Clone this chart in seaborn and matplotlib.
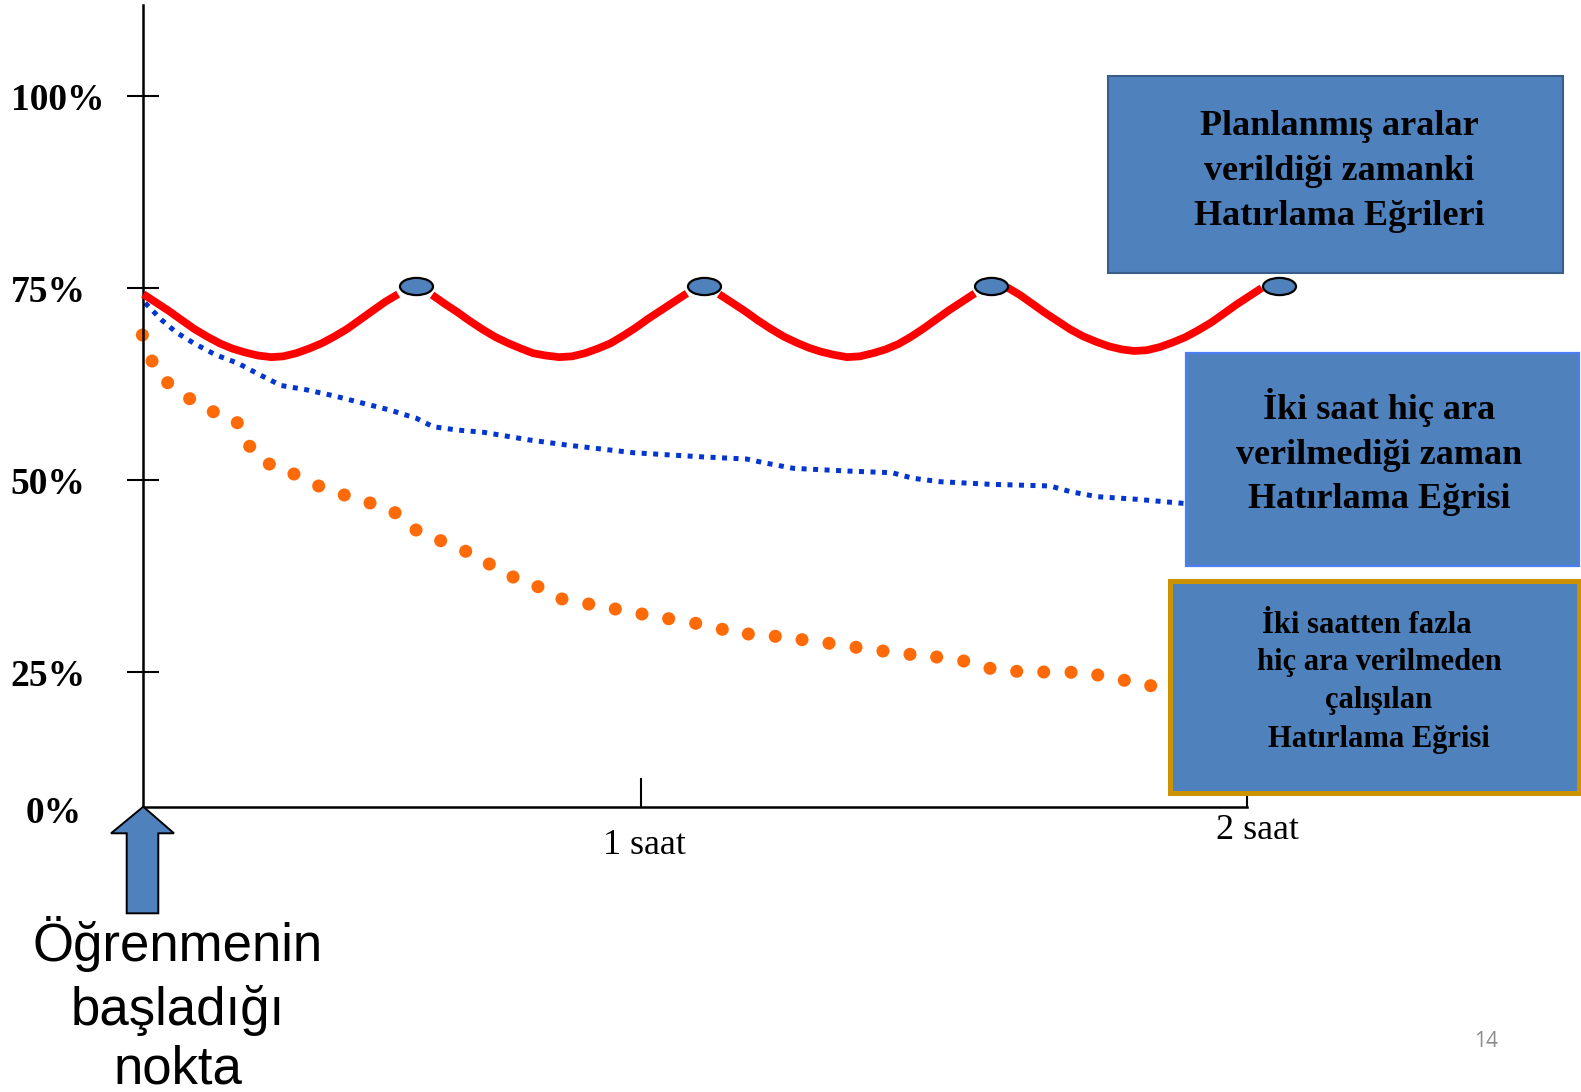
import numpy as np
import pandas as pd
import matplotlib
matplotlib.use("Agg")
import matplotlib.pyplot as plt
import matplotlib.transforms as mtransforms
from matplotlib.patches import Rectangle, Polygon
from matplotlib.path import Path
from matplotlib.markers import MarkerStyle
import seaborn as sns

# ---------------- data (x: minutes since start of learning, y: % recall) ----------------
seg1_x = [0.0, 1.4, 2.8, 4.2, 5.5, 6.9, 8.3, 9.7, 11.1, 12.5, 13.9, 15.2, 16.6, 18.0, 19.4,
          20.8, 22.2, 23.6, 25.0, 26.3, 27.7]
seg1_y = [74.2, 73.1, 72.0, 70.8, 69.7, 68.7, 67.8, 67.1, 66.6, 66.2, 66.0, 66.1, 66.5, 67.1,
          67.8, 68.7, 69.7, 70.9, 72.1, 73.2, 74.2]
seg2_x = [31.4, 32.7, 34.1, 35.5, 36.9, 38.3, 39.7, 41.1, 42.4, 43.8, 45.2, 46.6, 48.0, 49.4,
          50.8, 52.2, 53.5, 54.9, 56.3, 57.7, 59.1]
seg2_y = [74.1, 73.0, 71.9, 70.7, 69.6, 68.6, 67.8, 67.1, 66.5, 66.2, 66.0, 66.1, 66.5, 67.1,
          67.8, 68.8, 69.8, 71.0, 72.1, 73.2, 74.3]
seg3_x = [62.6, 64.0, 65.4, 66.8, 68.2, 69.6, 71.0, 72.4, 73.7, 75.1, 76.5, 77.9, 79.3, 80.7,
          82.1, 83.4, 84.8, 86.2, 87.6, 89.0, 90.4]
seg3_y = [74.2, 73.1, 72.0, 70.8, 69.7, 68.7, 67.9, 67.2, 66.7, 66.3, 66.0, 66.1, 66.5, 67.0,
          67.7, 68.6, 69.7, 70.9, 72.1, 73.2, 74.3]
seg4_x = [93.9, 95.3, 96.6, 98.0, 99.4, 100.8, 102.2, 103.6, 105.0, 106.4, 107.7, 109.1, 110.5,
          111.9, 113.3, 114.7, 116.1, 117.4, 118.8, 120.2, 121.6]
seg4_y = [75.1, 74.1, 73.0, 71.8, 70.7, 69.6, 68.7, 68.0, 67.4, 67.0, 66.8, 66.9, 67.3, 67.9,
          68.6, 69.5, 70.5, 71.6, 72.8, 73.9, 75.0]

break_x = [29.6, 61.0, 92.2, 123.5]
break_y = [75.3, 75.3, 75.3, 75.3]

noBreak_x = [0.2, 2.0, 3.6, 5.5, 7.9, 10.3, 12.7, 15.0, 17.6, 20.8, 23.9, 26.8,
             29.7, 31.5, 34.1, 37.0, 42.0, 46.0, 53.3, 60.5, 65.6, 67.8, 70.7,
             76.5, 81.4, 83.7, 86.6, 92.1, 98.6, 100.8, 103.7, 108.0, 113.8]
noBreak_y = [73.05, 70.83, 69.21, 67.80, 66.28, 65.20, 63.67, 62.30, 61.78, 60.94,
             59.99, 59.11, 58.03, 56.94, 56.51, 56.21, 55.21, 54.56, 53.55, 53.03,
             52.73, 52.17, 51.52, 51.17, 50.95, 50.22, 49.78, 49.44, 49.22, 48.48,
             47.83, 47.49, 46.88]

long_x = [-0.1, 0.95, 2.65, 5.04, 7.61, 10.22, 11.57, 13.70, 16.38, 19.07, 21.85,
          24.65, 27.37, 29.65, 32.33, 35.05, 37.62, 40.20, 42.91, 45.52, 48.43,
          51.32, 54.22, 57.12, 60.06, 62.95, 65.78, 68.71, 71.62, 74.55, 77.49,
          80.42, 83.36, 86.26, 89.20, 92.06, 94.96, 97.90, 100.87, 103.77, 106.66, 109.53]
long_y = [68.88, 65.49, 62.67, 60.59, 58.89, 57.46, 54.39, 52.08, 50.78, 49.22, 48.05,
          47.01, 45.74, 43.49, 42.10, 40.72, 39.06, 37.37, 36.11, 34.51, 33.85,
          33.20, 32.55, 31.94, 31.34, 30.56, 29.95, 29.65, 29.21, 28.74, 28.22,
          27.73, 27.30, 26.95, 26.43, 25.48, 25.09, 25.00, 24.96, 24.61, 23.92, 23.22]

y_ticks = [25, 50, 75, 100]
y_tick_labels = ["25%", "50%", "75%", "100%"]
x_ticks = [54.1, 120]
x_tick_labels = ["1 saat", "2 saat"]

box1_lines = ["Planlanmış aralar", "verildiği zamanki", "Hatırlama Eğrileri"]
box2_lines = ["İki saat hiç ara", "verilmediği zaman", "Hatırlama Eğrisi"]
box3_lines = ["İki saatten fazla", "hiç ara verilmeden", "çalışılan", "Hatırlama Eğrisi"]
start_lines = ["Öğrenmenin", "başladığı", "nokta"]

# ---------------- layout ----------------
W, H = 1581, 1092
X0, PXM = 143.3, 9.1975      # px of minute 0, px per minute
Y0, PXP = 864.0, 7.68        # px of 0 %, px per percent
AXIS_FLOOR = 7.46
AXIS_TOP = 111.85

sns.set_style("white")
plt.rcParams['font.family'] = ['Liberation Serif', 'DejaVu Serif']

fig = plt.figure(figsize=(W / 100, H / 100), dpi=100)
ax = fig.add_axes([0, 0, 1, 1])
ax.set_facecolor("white")
fig.patch.set_facecolor("white")

# pixel transform (origin top-left)
T = mtransforms.Affine2D().scale(1 / W, -1 / H).translate(0, 1) + fig.transFigure

# ---------------- marks ----------------
red_df = pd.DataFrame({
    "minute": seg1_x + seg2_x + seg3_x + seg4_x,
    "pct": seg1_y + seg2_y + seg3_y + seg4_y,
    "seg": [1] * len(seg1_x) + [2] * len(seg2_x) + [3] * len(seg3_x) + [4] * len(seg4_x),
})
sns.lineplot(data=red_df, x="minute", y="pct", units="seg", estimator=None, sort=False,
             color="#ff0000", lw=5.6, ax=ax, legend=False, zorder=3,
             solid_capstyle="butt", solid_joinstyle="round")

sns.lineplot(x=noBreak_x, y=noBreak_y, estimator=None, sort=False, color="#0336d0",
             lw=3.6, linestyle=(0, (1.0, 1.3)), dash_capstyle="butt", ax=ax,
             legend=False, zorder=2)

sns.scatterplot(x=long_x, y=long_y, s=88, color="#ff6a08", edgecolor="none",
                linewidth=0, ax=ax, legend=False, zorder=2)

ell = Path.unit_circle().transformed(mtransforms.Affine2D().scale(1, 0.52))
sns.scatterplot(x=break_x, y=break_y, marker=MarkerStyle(ell), s=565, color="#4f81bd",
                edgecolor="black", linewidth=1.6, ax=ax, legend=False, zorder=4)

ax.set_xlim(-X0 / PXM, (W - X0) / PXM)
ax.set_ylim((Y0 - H) / PXP, Y0 / PXP)
ax.set_xlabel("")
ax.set_ylabel("")

for s in ["top", "right"]:
    ax.spines[s].set_visible(False)
ax.spines["left"].set_position(("data", 0))
ax.spines["left"].set_bounds(AXIS_FLOOR, AXIS_TOP)
ax.spines["bottom"].set_position(("data", AXIS_FLOOR))
ax.spines["bottom"].set_bounds(0, 120)
for s in ["left", "bottom"]:
    ax.spines[s].set_color("black")
    ax.spines[s].set_linewidth(1.8)

ax.set_yticks(y_ticks)
ax.set_yticklabels([""] * len(y_ticks))
ax.set_xticks(x_ticks)
ax.set_xticklabels([""] * len(x_ticks))
ax.tick_params(axis="y", left=True, direction="inout", length=22.7, width=1.5, color="black")
ax.tick_params(axis="x", bottom=True, direction="in", length=21.0, width=1.5, color="black")

# ---------------- axis labels ----------------
ytrans = mtransforms.blended_transform_factory(fig.transFigure, ax.transData) + \
    mtransforms.ScaledTranslation(0, -13.8 / 100, fig.dpi_scale_trans)
for v, lab in zip(y_ticks, y_tick_labels):
    ax.text(10.5 / W, v, lab, transform=ytrans, ha="left", va="baseline",
            fontsize=27, fontweight="bold", color="black")
ax.text(26, 822.7, "0%", transform=T, ha="left", va="baseline",
        fontsize=27, fontweight="bold", color="black")

xlabel_pos = [(644, 854), (1257, 839)]
for (px, py), lab in zip(xlabel_pos, x_tick_labels):
    ax.text(px, py, lab, transform=T, ha="center", va="baseline", fontsize=26, color="black")

# ---------------- boxes ----------------
def box(x0, y0, x1, y1, edge, lw):
    r = Rectangle((x0, y0), x1 - x0, y1 - y0, transform=T, facecolor="#4f81bd",
                  edgecolor=edge, linewidth=lw, zorder=6, clip_on=False)
    ax.add_patch(r)

box(1108.3, 76, 1563, 272.7, "#385d8a", 1.5)
for line, by in zip(box1_lines, [135, 180, 225]):
    ax.text(1339, by, line, transform=T, ha="center", va="baseline", fontsize=26,
            fontweight="bold", color="black", zorder=7)

box(1185.7, 353.3, 1579, 566, "#4a7ef2", 1.6)
for line, by in zip(box2_lines, [419.3, 464, 508.3]):
    ax.text(1379, by, line, transform=T, ha="center", va="baseline", fontsize=26,
            fontweight="bold", color="black", zorder=7)

box(1169.5, 580.5, 1578.5, 792.5, "#cc9200", 3.6)
for line, bx, by in zip(box3_lines, [1367, 1379, 1379, 1379], [633.3, 670, 708.3, 747.3]):
    ax.text(bx, by, line, transform=T, ha="center", va="baseline", fontsize=22,
            fontweight="bold", color="black", zorder=7)

# ---------------- start arrow ----------------
arrow = Polygon([(143.3, 806.7), (174, 833.3), (158.3, 833.3), (158.3, 913.3),
                 (126.7, 913.3), (126.7, 833.3), (111, 833.3)], closed=True,
                transform=T, facecolor="#4f81bd", edgecolor="black", linewidth=1.4,
                zorder=6, clip_on=False)
ax.add_patch(arrow)
for line, by in zip(start_lines, [961, 1025, 1083]):
    ax.text(178, by, line, transform=T, ha="center", va="baseline", fontsize=38,
            family=["Liberation Sans", "DejaVu Sans"], color="black", zorder=7)

ax.text(1486, 1047, "14", transform=T, ha="center", va="baseline", fontsize=15,
        family=["Open Sans", "DejaVu Sans"], color="#8c8c8c")

fig.savefig("out.png", dpi=100, facecolor="white")
